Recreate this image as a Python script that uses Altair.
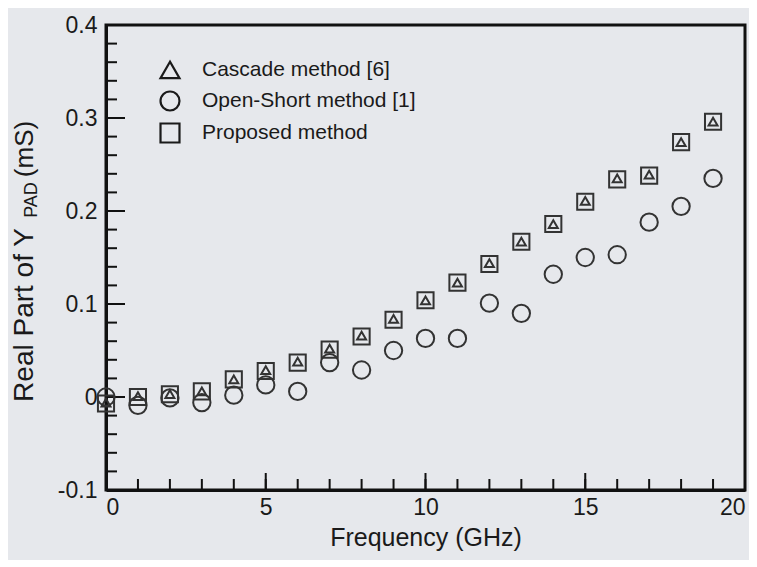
import altair as alt
import pandas as pd

freq = list(range(0, 20))
cascade = [-0.006, 0.001, 0.003, 0.006, 0.019, 0.029, 0.038, 0.052, 0.066, 0.084,
           0.104, 0.123, 0.144, 0.167, 0.186, 0.211, 0.235, 0.239, 0.274, 0.296]
open_short = [0.000, -0.009, -0.001, -0.006, 0.002, 0.013, 0.006, 0.037, 0.029, 0.050,
              0.063, 0.063, 0.101, 0.090, 0.132, 0.150, 0.153, 0.188, 0.205, 0.235]
proposed = [-0.007, 0.000, 0.003, 0.006, 0.019, 0.028, 0.037, 0.051, 0.065, 0.083,
            0.104, 0.123, 0.143, 0.167, 0.186, 0.210, 0.234, 0.238, 0.274, 0.296]

series_names = ["Cascade method [6]", "Open-Short method [1]", "Proposed method"]
shapes = ["triangle-up", "circle", "square"]
sizes = [80, 300, 260]

x_minor = list(range(0, 21))
x_major = [0, 5, 10, 15, 20]
y_minor = [-0.1, -0.08, -0.06, -0.04, -0.02, 0.0, 0.02, 0.04, 0.06, 0.08, 0.1,
           0.12, 0.14, 0.16, 0.18, 0.2, 0.22, 0.24, 0.26, 0.28, 0.3, 0.32, 0.34,
           0.36, 0.38, 0.4]
y_major = [-0.1, 0.0, 0.1, 0.2, 0.3, 0.4]

W, H = 639, 465
FONT = "Liberation Sans"
INK = "#1a1a1a"

rows = []
for name, vals in zip(series_names, [cascade, open_short, proposed]):
    for f, v in zip(freq, vals):
        rows.append({"f": f, "v": v, "series": name})
df = pd.DataFrame(rows)

xs = alt.Scale(domain=[0, 20], nice=False, zero=False)
ys = alt.Scale(domain=[-0.1, 0.4], nice=False, zero=False)

x_axis = alt.Axis(
    values=x_major, title="Frequency (GHz)", ticks=False, grid=False,
    labelFontSize=23, labelFont=FONT, labelColor=INK, labelPadding=6,
    titleFont=FONT, titleFontSize=25, titleFontWeight="normal", titleColor=INK,
    titlePadding=6, domainColor="#111111", domainWidth=3)
y_axis = alt.Axis(
    values=y_major, title=None, ticks=False, grid=False,
    labelExpr="datum.value == 0 ? '0' : replace(format(datum.value, '.1f'), '\u2212', '-')",
    labelFontSize=23, labelFont=FONT, labelColor=INK, labelPadding=9,
    domainColor="#111111", domainWidth=3)

legend = alt.Legend(title=None, orient="none", legendX=53, legendY=34,
                    symbolSize=360, symbolStrokeWidth=2.2,
                    symbolStrokeColor="#1a1a1a", symbolFillColor="transparent",
                    labelFontSize=21, labelFont=FONT, labelColor=INK, labelLimit=400,
                    labelOffset=21, rowPadding=4, padding=0)

point_layers = []
for name, sz in zip(series_names, sizes):
    point_layers.append(
        alt.Chart(df).transform_filter(alt.datum.series == name)
        .mark_point(filled=False, strokeWidth=2, opacity=1, size=sz, color="#333333")
        .encode(
            x=alt.X("f:Q", scale=xs, axis=x_axis),
            y=alt.Y("v:Q", scale=ys, axis=y_axis),
            shape=alt.Shape("series:N", scale=alt.Scale(domain=series_names, range=shapes),
                            legend=legend),
        )
    )

xt_minor = alt.Chart(pd.DataFrame({"t": x_minor})).mark_rule(color="#111111", strokeWidth=2).encode(
    x=alt.X("t:Q", scale=xs), y=alt.value(H), y2=alt.value(H - 11))
xt_major = alt.Chart(pd.DataFrame({"t": x_major})).mark_rule(color="#111111", strokeWidth=2).encode(
    x=alt.X("t:Q", scale=xs), y=alt.value(H), y2=alt.value(H - 17))
yt_minor = alt.Chart(pd.DataFrame({"t": y_minor})).mark_rule(color="#111111", strokeWidth=2).encode(
    y=alt.Y("t:Q", scale=ys), x=alt.value(0), x2=alt.value(11))
yt_major = alt.Chart(pd.DataFrame({"t": y_major})).mark_rule(color="#111111", strokeWidth=2).encode(
    y=alt.Y("t:Q", scale=ys), x=alt.value(0), x2=alt.value(19))

def label(text, x, y, size):
    return alt.Chart(pd.DataFrame({"s": [text]})).mark_text(
        angle=270, align="center", baseline="middle", font=FONT, fontSize=size, color=INK
    ).encode(text="s:N", x=alt.value(x), y=alt.value(y))

ytitle = (label("Real Part of Y", -81, 290, 28)
          + label("PAD", -74, 175, 18)
          + label("(mS)", -81, 124, 26))

chart = alt.layer(xt_minor, xt_major, yt_minor, yt_major, *point_layers, ytitle).properties(
    width=W, height=H,
    autosize=alt.AutoSizeParams(type="none"),
    padding={"left": 98, "top": 17, "right": 4, "bottom": 70},
    background="#e6e8ec",
).configure_view(stroke="#111111", strokeWidth=3)

chart.save("out.html", embed_options={"renderer": "svg", "actions": False})
